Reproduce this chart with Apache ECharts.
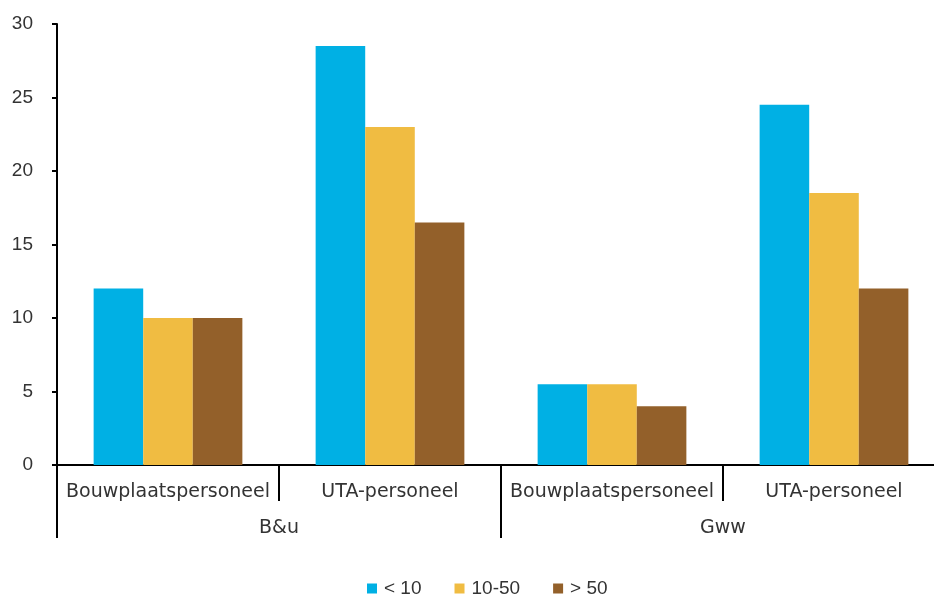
<!DOCTYPE html>
<html>
<head>
<meta charset="utf-8">
<script src="https://cdn.jsdelivr.net/npm/echarts@6/dist/echarts.min.js"></script>
<style>
  html, body { margin: 0; padding: 0; background: #fff; overflow: hidden; }
  /* the plot runs a little past the right edge of the window */
  #chart { width: 945px; height: 598px; }
</style>
</head>
<body>
<div id="chart"></div>
<script>
// Staff categories within each sector, and the sectors themselves
const staffTypes = ['Bouwplaatspersoneel', 'UTA-personeel', 'Bouwplaatspersoneel', 'UTA-personeel'];
const sectors = ['B&u', 'Gww'];

// Company size classes
const sizeClasses = ['< 10', '10-50', '> 50'];
const small = [12, 28.5, 5.5, 24.5];
const medium = [10, 23, 5.5, 18.5];
const large = [10, 16.5, 4, 12];

const colors = ['#00B0E4', '#F0BC42', '#93602A'];
const labelFont = '"DejaVu Sans", sans-serif';
const numberFont = '"Liberation Sans", Arial, sans-serif';
const textColor = '#333';

const chart = echarts.init(document.getElementById('chart'), null, { renderer: 'canvas' });

chart.setOption({
  animation: false,
  color: colors,
  grid: { left: 57, right: 0, top: 24, height: 441, containLabel: false },
  legend: {
    top: 574,
    left: 362,
    itemWidth: 10,
    itemHeight: 10,
    itemGap: 33,
    icon: 'rect',
    textStyle: { fontFamily: numberFont, fontSize: 19, color: textColor, padding: [0, 0, 0, 2] },
    data: sizeClasses
  },
  xAxis: [
    {
      type: 'category',
      data: staffTypes,
      position: 'bottom',
      axisLine: { show: true, lineStyle: { color: '#000', width: 2 } },
      axisTick: { show: true, length: 36, alignWithLabel: false, lineStyle: { color: '#000', width: 2 } },
      axisLabel: { margin: 18, fontFamily: labelFont, fontSize: 19, color: textColor, interval: 0 },
      splitLine: { show: false }
    },
    {
      type: 'category',
      data: sectors,
      position: 'bottom',
      axisLine: { show: false },
      axisTick: { show: true, length: 73, alignWithLabel: false, lineStyle: { color: '#000', width: 2 } },
      axisLabel: { margin: 54, fontFamily: labelFont, fontSize: 19, color: textColor, interval: 0 },
      splitLine: { show: false }
    }
  ],
  yAxis: {
    type: 'value',
    min: 0,
    max: 30,
    interval: 5,
    axisLine: { show: true, lineStyle: { color: '#000', width: 2 } },
    axisTick: { show: true, length: 5, lineStyle: { color: '#000', width: 2 } },
    axisLabel: { margin: 24, fontFamily: numberFont, fontSize: 19, color: textColor },
    splitLine: { show: false }
  },
  series: [
    { name: sizeClasses[0], type: 'bar', xAxisIndex: 0, data: small, barGap: '0%', barCategoryGap: '33%' },
    { name: sizeClasses[1], type: 'bar', xAxisIndex: 0, data: medium, barGap: '0%', barCategoryGap: '33%' },
    { name: sizeClasses[2], type: 'bar', xAxisIndex: 0, data: large, barGap: '0%', barCategoryGap: '33%' }
  ]
});
</script>
</body>
</html>
